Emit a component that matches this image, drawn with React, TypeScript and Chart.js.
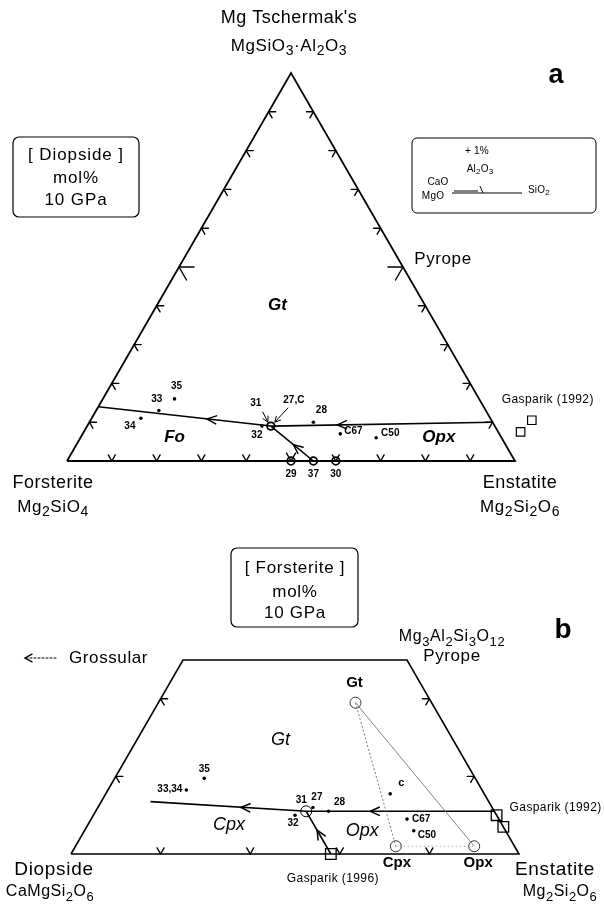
import React, { useEffect, useRef } from "react";
import { Chart, registerables } from "chart.js";
Chart.register(...registerables);

const FONT = '"Liberation Sans", Arial, Helvetica, sans-serif';
type Tern = [number, number, number];
type Pt = [number, number];

// ===== Panel a: projected from Diopside, mol% [Forsterite, Enstatite, Mg-Tschermak's], 10 GPa
const A_CORNERS: Tern[] = [[100, 0, 0], [0, 100, 0], [0, 0, 100]];
const A_TICKS = [10, 20, 30, 40, 50, 60, 70, 80, 90];
const A_FO_GT: Tern[] = [[50, 41, 9], [86, 0, 14]];
const A_OPX_GT: Tern[] = [[0, 90, 10], [50, 41, 9]];
const A_FO_OPX: Tern[] = [[45, 55, 0], [50, 41, 9]];
const A_CIRCLE_IDS = ["31", "29", "37", "30"];
const A_CIRCLES: Tern[] = [[50, 41, 9], [50, 50, 0], [45, 55, 0], [40, 60, 0]];
const A_RUN_IDS = ["35", "33", "34", "32", "28", "C67", "C50"];
const A_RUNS: Tern[] = [[68, 16, 16], [73, 14, 13], [78, 11, 11], [52, 39, 9], [40, 50, 10], [35.5, 57.5, 7], [28, 66, 6]];
const A_GASPARIK_1992: Tern[] = [[-9, 98.5, 10.5], [-5, 97.5, 7.5]];
const A_FIELD_NAMES = ["Gt", "Fo", "Opx"];
const A_FIELD_AT: Tern[] = [[33, 27, 40], [73, 21, 6], [14, 80, 6]];
const A_PYROPE: Tern = [0, 50, 50];

// ===== Panel b: projected from Forsterite, mol% [Diopside, Enstatite, Mg-Tschermak's], 10 GPa
const B_CORNERS: Tern[] = [[100, 0, 0], [0, 100, 0], [0, 50, 50], [50, 0, 50]];
const B_BASE_TICKS = [20, 40, 60, 80];
const B_SIDE_TICKS = [20, 40];
const B_CPX_GT: Tern[] = [[42, 47, 11], [75.5, 11, 13.5]];
const B_OPX_GT: Tern[] = [[0, 89, 11], [42, 47, 11]];
const B_CPX_OPX: Tern[] = [[42, 58, 0], [42, 47, 11]];
const B_INVARIANT: Tern[] = [[42, 47, 11]];
const B_RUN_IDS = ["35", "33,34", "27", "28", "32", "c", "C67", "C50"];
const B_RUNS: Tern[] = [[60.5, 20, 19.5], [66, 17.5, 16.5], [40, 48, 12], [37, 52, 11], [45, 45, 10], [21, 63.5, 15.5], [20.5, 70.5, 9], [20.5, 73.5, 6]];
const B_PHASE_NAMES = ["Gt", "Cpx", "Opx"];
const B_PHASES: Tern[] = [[17, 44, 39], [26.5, 71.5, 2], [9, 89, 2]];
const B_GASPARIK_1992: Tern[] = [[0, 90, 10], [0, 93, 7]];
const B_GASPARIK_1996: Tern[] = [[42, 58, 0]];
const B_FIELD_NAMES = ["Gt", "Cpx", "Opx"];
const B_FIELD_AT: Tern[] = [[38.5, 32, 29.5], [61, 31.5, 7.5], [32, 62, 6]];

// ---------- helpers
const toXY = (t: Tern) => {
  const s = t[0] + t[1] + t[2];
  return { x: (t[1] + t[2] / 2) / s, y: t[2] / s };
};
const pxOf = (chart: any) => (t: Tern): Pt => {
  const p = toXY(t);
  return [chart.scales.x.getPixelForValue(p.x), chart.scales.y.getPixelForValue(p.y)];
};
const unit = (a: Pt, b: Pt): Pt => {
  const dx = b[0] - a[0], dy = b[1] - a[1];
  const l = Math.hypot(dx, dy);
  return [dx / l, dy / l];
};
const along = (a: Pt, b: Pt, f: number): Pt => [a[0] + (b[0] - a[0]) * f, a[1] + (b[1] - a[1]) * f];

function tick(ctx: CanvasRenderingContext2D, p: Pt, dirs: Pt[], len: number) {
  dirs.forEach((d) => {
    ctx.beginPath();
    ctx.moveTo(p[0], p[1]);
    ctx.lineTo(p[0] + d[0] * len, p[1] + d[1] * len);
    ctx.stroke();
  });
}
function chevron(ctx: CanvasRenderingContext2D, tip: Pt, dir: Pt, len = 10, half = 0.42) {
  const ang = Math.atan2(dir[1], dir[0]);
  ctx.beginPath();
  ctx.moveTo(tip[0] - len * Math.cos(ang - half), tip[1] - len * Math.sin(ang - half));
  ctx.lineTo(tip[0], tip[1]);
  ctx.lineTo(tip[0] - len * Math.cos(ang + half), tip[1] - len * Math.sin(ang + half));
  ctx.stroke();
}
function pointer(ctx: CanvasRenderingContext2D, from: Pt, to: Pt) {
  ctx.save();
  ctx.lineWidth = 1;
  ctx.beginPath();
  ctx.moveTo(from[0], from[1]);
  ctx.lineTo(to[0], to[1]);
  ctx.stroke();
  chevron(ctx, to, unit(from, to), 6, 0.5);
  ctx.restore();
}
function roundBox(ctx: CanvasRenderingContext2D, x: number, y: number, w: number, h: number, r: number) {
  ctx.beginPath();
  ctx.moveTo(x + r, y);
  ctx.arcTo(x + w, y, x + w, y + h, r);
  ctx.arcTo(x + w, y + h, x, y + h, r);
  ctx.arcTo(x, y + h, x, y, r);
  ctx.arcTo(x, y, x + w, y, r);
  ctx.closePath();
  ctx.stroke();
}
function parseRich(s: string): [string, boolean][] {
  const out: [string, boolean][] = [];
  let buf = "";
  for (let i = 0; i < s.length; i++) {
    const ch = s[i];
    if (ch === "_") {
      if (buf) { out.push([buf, false]); buf = ""; }
      if (s[i + 1] === "{") {
        const j = s.indexOf("}", i);
        out.push([s.slice(i + 2, j), true]);
        i = j;
      } else { out.push([s[i + 1], true]); i++; }
    } else buf += ch;
  }
  if (buf) out.push([buf, false]);
  return out;
}
type TO = { size: number; weight?: string; style?: string; align?: "left" | "center" | "right"; spacing?: number; color?: string };
function text(ctx: CanvasRenderingContext2D, s: string, x: number, y: number, o: TO) {
  const segs = parseRich(s);
  const font = (sub: boolean) => `${o.style || "normal"} ${o.weight || "normal"} ${sub ? Math.round(o.size * 0.82) : o.size}px ${FONT}`;
  ctx.save();
  ctx.textBaseline = "middle";
  ctx.textAlign = "left";
  (ctx as any).letterSpacing = `${o.spacing ?? 0}px`;
  ctx.fillStyle = o.color || "#000";
  let total = 0;
  const ws = segs.map(([t, sub]) => { ctx.font = font(sub); const w = ctx.measureText(t).width; total += w; return w; });
  let cx = o.align === "left" ? x : o.align === "right" ? x - total : x - total / 2;
  segs.forEach(([t, sub], i) => {
    ctx.font = font(sub);
    ctx.fillText(t, cx, sub ? y + o.size * 0.32 : y);
    cx += ws[i];
  });
  ctx.restore();
}

const line = (pts: Tern[], extra: any = {}) => ({
  data: pts.map(toXY), showLine: true, pointRadius: 0, borderColor: "#000", backgroundColor: "#000",
  borderWidth: 1.6, tension: 0, clip: false, ...extra,
});
const marks = (pts: Tern[], extra: any = {}) => ({
  data: pts.map(toXY), showLine: false, clip: false, borderColor: "#000", backgroundColor: "#000", ...extra,
});

const baseOptions = (padding: any, xmax: number, ymax: number) => ({
  animation: false as const,
  responsive: false,
  events: [] as any[],
  layout: { padding },
  scales: {
    x: { type: "linear" as const, min: 0, max: xmax, display: false },
    y: { type: "linear" as const, min: 0, max: ymax, display: false },
  },
  plugins: { legend: { display: false }, tooltip: { enabled: false }, colors: { enabled: false } },
});

// ---------- Panel a
const SIDE_A = 448;
const RUN_LABELS_A: Record<string, [number, number, "left" | "center"]> = {
  "35": [2, -13, "center"], "33": [-2, -11, "center"], "34": [-11, 8, "center"], "32": [-5, 9, "center"],
  "28": [8, -12, "center"], C67: [4, -3, "left"], C50: [5, -4, "left"],
};
const panelAPlugin = {
  id: "panelA",
  afterDatasetsDraw(chart: any) {
    const ctx: CanvasRenderingContext2D = chart.ctx;
    const p = pxOf(chart);
    const [L, R, T] = A_CORNERS.map(p);
    ctx.save();
    ctx.strokeStyle = "#000";
    ctx.lineWidth = 1.4;
    ctx.lineCap = "round";
    A_TICKS.forEach((v) => {
      const len = v === 50 ? 15 : 7;
      tick(ctx, p([100 - v, v, 0]), [unit(L, T), unit(R, T)], v === 50 ? 9 : 7);
      tick(ctx, p([100 - v, 0, v]), [unit(L, R), unit(T, R)], len);
      tick(ctx, p([0, 100 - v, v]), [unit(R, L), unit(T, L)], len);
    });
    ctx.lineWidth = 1.5;
    ([[A_FO_GT, 0.37], [A_OPX_GT, 0.7], [A_FO_OPX, 0.47]] as [Tern[], number][]).forEach(([ln, f]) => {
      const a = p(ln[0]), b = p(ln[1]);
      chevron(ctx, along(a, b, f), unit(a, b), 10);
    });
    const J = p(A_CIRCLES[0]);
    pointer(ctx, [J[0] - 8, J[1] - 14], [J[0] - 3, J[1] - 4]);
    pointer(ctx, [J[0] + 17, J[1] - 18], [J[0] + 4, J[1] - 4]);
    ctx.restore();

    const small = { size: 10, weight: "bold" };
    text(ctx, "31", J[0] - 15, J[1] - 23, small);
    text(ctx, "27,C", J[0] + 23, J[1] - 26, small);
    A_CIRCLE_IDS.forEach((id, i) => {
      if (i === 0) return;
      const c = p(A_CIRCLES[i]);
      text(ctx, id, c[0], c[1] + 13, small);
    });
    A_RUN_IDS.forEach((id, i) => {
      const d = p(A_RUNS[i]);
      const [dx, dy, al] = RUN_LABELS_A[id];
      text(ctx, id, d[0] + dx, d[1] + dy, { ...small, align: al });
    });
    A_FIELD_NAMES.forEach((n, i) => {
      const q = p(A_FIELD_AT[i]);
      text(ctx, n, q[0], q[1], { size: 17, weight: "bold", style: "italic" });
    });
    const g = p(A_GASPARIK_1992[0]);
    text(ctx, "Gasparik (1992)", g[0] + 16, g[1] - 21, { size: 12, spacing: 0.4 });

    const lab = { size: 18, spacing: 0.5 };
    text(ctx, "Mg Tschermak's", T[0] - 2, T[1] - 55, lab);
    text(ctx, "MgSiO_3·Al_2O_3", T[0] - 2, T[1] - 27, { size: 17, spacing: 0.6 });
    text(ctx, "Forsterite", L[0] - 14, L[1] + 22, lab);
    text(ctx, "Mg_2SiO_4", L[0] - 14, L[1] + 46, { size: 17, spacing: 0.6 });
    text(ctx, "Enstatite", R[0] + 5, R[1] + 22, lab);
    text(ctx, "Mg_2Si_2O_6", R[0] + 5, R[1] + 46, { size: 17, spacing: 0.6 });
    const py = p(A_PYROPE);
    text(ctx, "Pyrope", py[0] + 40, py[1] - 8, { size: 17, spacing: 0.6 });

    // projection box
    ctx.save();
    ctx.strokeStyle = "#000";
    ctx.lineWidth = 1.2;
    roundBox(ctx, 13, 137, 126, 80, 6);
    ctx.restore();
    const boxT = { size: 17, spacing: 0.9 };
    text(ctx, "[ Diopside ]", 76, 155, boxT);
    text(ctx, "mol%", 76, 178, boxT);
    text(ctx, "10 GPa", 76, 200, boxT);

    // inset: +1% Al2O3 in CaO-MgO-SiO2
    const bx = 412, by = 138;
    ctx.save();
    ctx.strokeStyle = "#000";
    ctx.lineWidth = 1;
    roundBox(ctx, bx, by, 184, 75, 5);
    ctx.beginPath();
    ctx.moveTo(bx + 40, by + 55); ctx.lineTo(bx + 110, by + 55);
    ctx.moveTo(bx + 42, by + 53); ctx.lineTo(bx + 66, by + 53);
    ctx.moveTo(bx + 68, by + 48); ctx.lineTo(bx + 71, by + 55);
    ctx.stroke();
    ctx.restore();
    const ins = { size: 10, spacing: 0.2 };
    text(ctx, "+ 1%", bx + 65, by + 13, ins);
    text(ctx, "Al_2O_3", bx + 68, by + 31, ins);
    text(ctx, "CaO", bx + 26, by + 44, ins);
    text(ctx, "MgO", bx + 21, by + 58, ins);
    text(ctx, "SiO_2", bx + 116, by + 52, { ...ins, align: "left" });

    text(ctx, "a", 556, 76, { size: 27, weight: "bold" });
  },
};

// ---------- Panel b
const RUN_LABELS_B: Record<string, [number, number, "left" | "center" | "right"]> = {
  "35": [0, -9, "center"], "33,34": [-4, -1, "right"], "27": [4, -10, "center"], "28": [11, -9, "center"],
  "32": [-2, 8, "center"], c: [11, -11, "center"], C67: [5, 0, "left"], C50: [4, 5, "left"],
};
const panelBPlugin = {
  id: "panelB",
  afterDatasetsDraw(chart: any) {
    const ctx: CanvasRenderingContext2D = chart.ctx;
    const p = pxOf(chart);
    const [Di, En, Py, G] = B_CORNERS.map(p);
    ctx.save();
    ctx.strokeStyle = "#000";
    ctx.lineWidth = 1.4;
    ctx.lineCap = "round";
    B_BASE_TICKS.forEach((v) => tick(ctx, p([100 - v, v, 0]), [unit(Di, G), unit(En, Py)], 7));
    B_SIDE_TICKS.forEach((v) => {
      tick(ctx, p([100 - v, 0, v]), [unit(Di, En), unit(Py, En)], 7);
      tick(ctx, p([0, 100 - v, v]), [unit(En, Di), unit(G, Di)], 7);
    });
    ctx.lineWidth = 1.5;
    ([[B_CPX_GT, 0.42], [B_OPX_GT, 0.66], [B_CPX_OPX, 0.56]] as [Tern[], number][]).forEach(([ln, f]) => {
      const a = p(ln[0]), b = p(ln[1]);
      chevron(ctx, along(a, b, f), unit(a, b), 10);
    });
    // Grossular direction
    ctx.lineWidth = 1;
    ctx.setLineDash([2, 2]);
    ctx.beginPath();
    ctx.moveTo(G[0] - 127, G[1] - 2);
    ctx.lineTo(G[0] - 157, G[1] - 2);
    ctx.stroke();
    ctx.setLineDash([]);
    ctx.lineWidth = 1.4;
    chevron(ctx, [G[0] - 158, G[1] - 2], [-1, 0], 8, 0.5);
    ctx.restore();

    const small = { size: 10, weight: "bold" };
    const J = p(B_INVARIANT[0]);
    text(ctx, "31", J[0] - 5, J[1] - 11, small);
    B_RUN_IDS.forEach((id, i) => {
      const d = p(B_RUNS[i]);
      const [dx, dy, al] = RUN_LABELS_B[id];
      text(ctx, id, d[0] + dx, d[1] + dy, { ...small, align: al, size: id === "c" ? 11 : 10 });
    });
    B_FIELD_NAMES.forEach((n, i) => {
      const q = p(B_FIELD_AT[i]);
      text(ctx, n, q[0], q[1], { size: 18, style: "italic" });
    });
    B_PHASE_NAMES.forEach((n, i) => {
      const q = p(B_PHASES[i]);
      const dy = i === 0 ? -20 : 17;
      text(ctx, n, q[0] + (i === 2 ? 4 : i === 1 ? 1 : -1), q[1] + dy, { size: 15, weight: "bold" });
    });
    const g2 = p(B_GASPARIK_1992[0]);
    text(ctx, "Gasparik (1992)", g2[0] + 59, g2[1] - 8, { size: 12, spacing: 0.4 });
    const g6 = p(B_GASPARIK_1996[0]);
    text(ctx, "Gasparik (1996)", g6[0] + 2, g6[1] + 25, { size: 12, spacing: 0.4 });

    const lab = { size: 19, spacing: 0.7 };
    text(ctx, "Diopside", Di[0] - 17, Di[1] + 16, lab);
    text(ctx, "CaMgSi_2O_6", Di[0] - 21, Di[1] + 38, { size: 16, spacing: 0.5 });
    text(ctx, "Enstatite", En[0] + 36, En[1] + 16, lab);
    text(ctx, "Mg_2Si_2O_6", En[0] + 41, En[1] + 38, { size: 16, spacing: 0.5 });
    text(ctx, "Mg_3Al_2Si_3O_{12}", Py[0] + 45, Py[1] - 23, { size: 16, spacing: 0.6 });
    text(ctx, "Pyrope", Py[0] + 45, Py[1] - 4, { size: 17, spacing: 0.6 });
    text(ctx, "Grossular", G[0] - 114, G[1] - 2, { size: 17, spacing: 0.6, align: "left" });

    ctx.save();
    ctx.strokeStyle = "#000";
    ctx.lineWidth = 1.2;
    roundBox(ctx, 231, 18, 127, 79, 6);
    ctx.restore();
    const boxT = { size: 17, spacing: 0.7 };
    text(ctx, "[ Forsterite ]", 295, 38, boxT);
    text(ctx, "mol%", 295, 62, boxT);
    text(ctx, "10 GPa", 295, 83, boxT);

    text(ctx, "b", 563, 100, { size: 28, weight: "bold" });
  },
};

function configA(): any {
  const xmax = 1.15;
  return {
    type: "scatter",
    data: {
      datasets: [
        line([...A_CORNERS, A_CORNERS[0]], { borderWidth: 1.8, borderJoinStyle: "miter" }),
        line(A_FO_GT),
        line(A_OPX_GT),
        line(A_FO_OPX),
        marks(A_CIRCLES, { pointStyle: "circle", pointRadius: 3.8, borderWidth: 1.8, backgroundColor: "#fff" }),
        marks(A_RUNS, { pointRadius: 1.8, borderWidth: 0 }),
        marks(A_GASPARIK_1992, { pointStyle: "rect", pointRadius: 6, borderWidth: 1.2, backgroundColor: "#fff" }),
      ],
    },
    options: baseOptions({ left: 67, right: 604 - 67 - SIDE_A * xmax, top: 73, bottom: 530 - 461 }, xmax, 1),
    plugins: [panelAPlugin],
  };
}

function configB(): any {
  const gt = B_PHASES[0];
  const xmax = 1.15;
  return {
    type: "scatter",
    data: {
      datasets: [
        line([...B_CORNERS, B_CORNERS[0]], { borderWidth: 1.6, borderJoinStyle: "miter" }),
        line([gt, B_PHASES[1]], { borderColor: "#555", borderWidth: 0.8, borderDash: [2, 2] }),
        line([gt, B_PHASES[2]], { borderColor: "#666", borderWidth: 0.8 }),
        line([B_PHASES[1], B_PHASES[2]], { borderColor: "#777", borderWidth: 0.8, borderDash: [1, 3] }),
        line(B_CPX_GT),
        line(B_OPX_GT),
        line(B_CPX_OPX),
        marks(B_INVARIANT, { pointStyle: "circle", pointRadius: 5.5, borderWidth: 1, backgroundColor: "rgba(255,255,255,0)" }),
        marks(B_PHASES, { pointStyle: "circle", pointRadius: 5.5, borderWidth: 1, borderColor: "#333", backgroundColor: "#fff" }),
        marks(B_PHASES, { pointRadius: 0.8, borderWidth: 0, backgroundColor: "#333" }),
        marks(B_RUNS, { pointRadius: 1.8, borderWidth: 0 }),
        marks(B_GASPARIK_1992, { pointStyle: "rect", pointRadius: 7.5, borderWidth: 1.3, backgroundColor: "rgba(255,255,255,0)" }),
        marks(B_GASPARIK_1996, { pointStyle: "rect", pointRadius: 7.5, borderWidth: 1.3, backgroundColor: "rgba(255,255,255,0)" }),
      ],
    },
    options: baseOptions({ left: 71, right: 604 - 71 - SIDE_A * xmax, top: 660 - 530, bottom: 905 - 854 }, xmax, 0.5),
    plugins: [panelBPlugin],
  };
}

export default function App() {
  const refA = useRef<HTMLCanvasElement>(null);
  const refB = useRef<HTMLCanvasElement>(null);
  useEffect(() => {
    const a = new Chart(refA.current!, configA());
    const b = new Chart(refB.current!, configB());
    return () => {
      a.destroy();
      b.destroy();
    };
  }, []);
  return (
    <div style={{ position: "absolute", left: 0, top: 0, width: 604, height: 905, background: "#fff" }}>
      <canvas ref={refA} width={604} height={530} style={{ position: "absolute", left: 0, top: 0, width: 604, height: 530 }} />
      <canvas ref={refB} width={604} height={375} style={{ position: "absolute", left: 0, top: 530, width: 604, height: 375 }} />
    </div>
  );
}
